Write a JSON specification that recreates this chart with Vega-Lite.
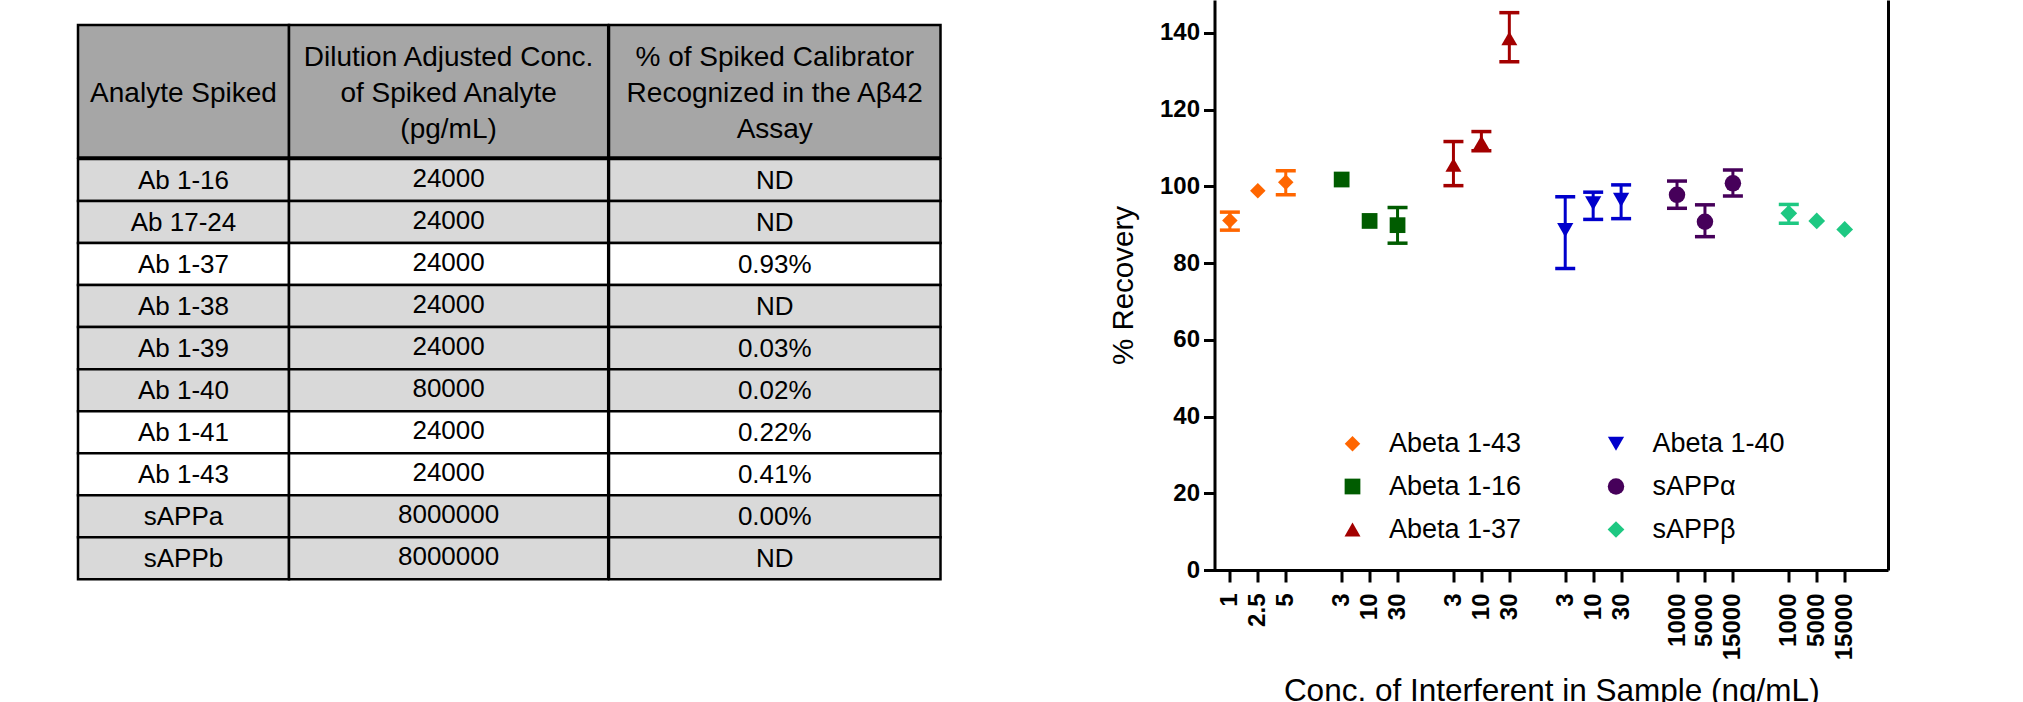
{
  "$schema": "https://vega.github.io/schema/vega-lite/v6.json",
  "background": "white",
  "padding": {"left": 76, "top": 0, "right": 5, "bottom": 0},
  "spacing": 165.5,
  "config": {
    "view": {"stroke": null},
    "font": "Liberation Sans",
    "text": {"color": "black", "font": "Liberation Sans"}
  },
  "datasets": {
    "header": [
      {"col": 1, "h": "Analyte Spiked"},
      {"col": 2, "h": "Dilution Adjusted Conc.\nof Spiked Analyte\n(pg/mL)"},
      {"col": 3, "h": "% of Spiked Calibrator\nRecognized in the Aβ42\nAssay"}
    ],
    "table": [
      {"analyte": "Ab 1-16", "conc": "24000", "pct": "ND"},
      {"analyte": "Ab 17-24", "conc": "24000", "pct": "ND"},
      {"analyte": "Ab 1-37", "conc": "24000", "pct": "0.93%"},
      {"analyte": "Ab 1-38", "conc": "24000", "pct": "ND"},
      {"analyte": "Ab 1-39", "conc": "24000", "pct": "0.03%"},
      {"analyte": "Ab 1-40", "conc": "80000", "pct": "0.02%"},
      {"analyte": "Ab 1-41", "conc": "24000", "pct": "0.22%"},
      {"analyte": "Ab 1-43", "conc": "24000", "pct": "0.41%"},
      {"analyte": "sAPPa", "conc": "8000000", "pct": "0.00%"},
      {"analyte": "sAPPb", "conc": "8000000", "pct": "ND"}
    ],
    "recovery": [
      {"series": "Abeta 1-43", "conc": "1", "rec": 91.1, "lo": 88.6, "hi": 93.3},
      {"series": "Abeta 1-43", "conc": "2.5", "rec": 98.9},
      {"series": "Abeta 1-43", "conc": "5", "rec": 101.1, "lo": 97.8, "hi": 104.1},
      {"series": "Abeta 1-16", "conc": "3", "rec": 101.8},
      {"series": "Abeta 1-16", "conc": "10", "rec": 91.0},
      {"series": "Abeta 1-16", "conc": "30", "rec": 89.9, "lo": 85.2, "hi": 94.5},
      {"series": "Abeta 1-37", "conc": "3", "rec": 105.6, "lo": 100.2, "hi": 111.7},
      {"series": "Abeta 1-37", "conc": "10", "rec": 111.5, "lo": 109.3, "hi": 114.3},
      {"series": "Abeta 1-37", "conc": "30", "rec": 138.6, "lo": 132.5, "hi": 145.3},
      {"series": "Abeta 1-40", "conc": "3", "rec": 88.6, "lo": 78.6, "hi": 97.3},
      {"series": "Abeta 1-40", "conc": "10", "rec": 95.6, "lo": 91.4, "hi": 98.5},
      {"series": "Abeta 1-40", "conc": "30", "rec": 96.5, "lo": 91.6, "hi": 100.4},
      {"series": "sAPPα", "conc": "1000", "rec": 97.8, "lo": 94.3, "hi": 101.4},
      {"series": "sAPPα", "conc": "5000", "rec": 90.8, "lo": 86.9, "hi": 95.2},
      {"series": "sAPPα", "conc": "15000", "rec": 100.8, "lo": 97.5, "hi": 104.3},
      {"series": "sAPPβ", "conc": "1000", "rec": 93.0, "lo": 90.4, "hi": 95.3},
      {"series": "sAPPβ", "conc": "5000", "rec": 91.0},
      {"series": "sAPPβ", "conc": "15000", "rec": 88.8}
    ]
  },
  "hconcat": [
    {
      "spacing": -2.5,
      "vconcat": [
        {
          "width": 861.7, "height": 24.5,
          "data": {"values": [{"blank": ""}]},
          "mark": {"type": "text", "opacity": 0},
          "encoding": {"text": {"field": "blank"}}
        },
        {
          "spacing": 0,
          "bounds": "flush",
          "hconcat": [
            {
              "width": 211, "height": 132.4,
              "view": {"fill": "#a6a6a6", "stroke": "black", "strokeWidth": 2.5},
              "data": {"name": "header"},
              "transform": [{"filter": "datum.col == 1"}],
              "mark": {"type": "text", "fontSize": 28, "lineBreak": "\n", "lineHeight": 36, "dy": 3, "fill": "black", "font": "Liberation Sans"},
              "encoding": {"text": {"field": "h"}}
            },
            {
              "width": 319.2, "height": 132.4,
              "view": {"fill": "#a6a6a6", "stroke": "black", "strokeWidth": 2.5},
              "data": {"name": "header"},
              "transform": [{"filter": "datum.col == 2"}],
              "mark": {"type": "text", "fontSize": 28, "lineBreak": "\n", "lineHeight": 36, "dy": -33, "fill": "black", "font": "Liberation Sans"},
              "encoding": {"text": {"field": "h"}}
            },
            {
              "width": 331.5, "height": 132.4,
              "view": {"fill": "#a6a6a6", "stroke": "black", "strokeWidth": 2.5},
              "data": {"name": "header"},
              "transform": [{"filter": "datum.col == 3"}],
              "mark": {"type": "text", "fontSize": 28, "lineBreak": "\n", "lineHeight": 36, "dy": -33, "fill": "black", "font": "Liberation Sans"},
              "encoding": {"text": {"field": "h"}}
            }
          ]
        },
        {
          "spacing": 0,
          "bounds": "flush",
          "hconcat": [
            {
              "width": 211, "height": 420.3,
              "data": {"name": "table"},
              "layer": [
                {
                  "mark": {"type": "rect", "stroke": "black", "strokeWidth": 2.5},
                  "encoding": {
                    "y": {"field": "analyte", "type": "nominal", "sort": null, "axis": null, "scale": {"paddingInner": 0, "paddingOuter": 0}},
                    "x": {"value": 0},
                    "x2": {"value": "width"},
                    "fill": {"condition": {"test": "indexof(['Ab 1-37','Ab 1-41','Ab 1-43'], datum.analyte) >= 0", "value": "white"}, "value": "#d9d9d9"}
                  }
                },
                {
                  "mark": {"type": "text", "fontSize": 26, "fill": "black", "font": "Liberation Sans", "dy": 1},
                  "encoding": {
                    "y": {"field": "analyte", "type": "nominal", "sort": null, "axis": null},
                    "text": {"field": "analyte"}
                  }
                }
              ]
            },
            {
              "width": 319.2, "height": 420.3,
              "data": {"name": "table"},
              "layer": [
                {
                  "mark": {"type": "rect", "stroke": "black", "strokeWidth": 2.5},
                  "encoding": {
                    "y": {"field": "analyte", "type": "nominal", "sort": null, "axis": null, "scale": {"paddingInner": 0, "paddingOuter": 0}},
                    "x": {"value": 0},
                    "x2": {"value": "width"},
                    "fill": {"condition": {"test": "indexof(['Ab 1-37','Ab 1-41','Ab 1-43'], datum.analyte) >= 0", "value": "white"}, "value": "#d9d9d9"}
                  }
                },
                {
                  "mark": {"type": "text", "fontSize": 26, "fill": "black", "font": "Liberation Sans", "dy": -1},
                  "encoding": {
                    "y": {"field": "analyte", "type": "nominal", "sort": null, "axis": null},
                    "text": {"field": "conc"}
                  }
                }
              ]
            },
            {
              "width": 331.5, "height": 420.3,
              "data": {"name": "table"},
              "layer": [
                {
                  "mark": {"type": "rect", "stroke": "black", "strokeWidth": 2.5},
                  "encoding": {
                    "y": {"field": "analyte", "type": "nominal", "sort": null, "axis": null, "scale": {"paddingInner": 0, "paddingOuter": 0}},
                    "x": {"value": 0},
                    "x2": {"value": "width"},
                    "fill": {"condition": {"test": "indexof(['Ab 1-37','Ab 1-41','Ab 1-43'], datum.analyte) >= 0", "value": "white"}, "value": "#d9d9d9"}
                  }
                },
                {
                  "mark": {"type": "text", "fontSize": 26, "fill": "black", "font": "Liberation Sans", "dy": 1},
                  "encoding": {
                    "y": {"field": "analyte", "type": "nominal", "sort": null, "axis": null},
                    "text": {"field": "pct"}
                  }
                }
              ]
            }
          ]
        }
      ]
    },
    {
      "width": 673.5, "height": 570,
      "data": {"name": "recovery"},
      "transform": [{"calculate": "datum.series + '|' + datum.conc", "as": "key"}],
      "encoding": {
        "x": {
          "field": "key", "type": "nominal",
          "scale": {"type": "point", "padding": 0.55, "domain": ["Abeta 1-43|1","Abeta 1-43|2.5","Abeta 1-43|5","gap1","Abeta 1-16|3","Abeta 1-16|10","Abeta 1-16|30","gap2","Abeta 1-37|3","Abeta 1-37|10","Abeta 1-37|30","gap3","Abeta 1-40|3","Abeta 1-40|10","Abeta 1-40|30","gap4","sAPPα|1000","sAPPα|5000","sAPPα|15000","gap5","sAPPβ|1000","sAPPβ|5000","sAPPβ|15000","gap6"]},
          "axis": {
            "values": ["Abeta 1-43|1","Abeta 1-43|2.5","Abeta 1-43|5","Abeta 1-16|3","Abeta 1-16|10","Abeta 1-16|30","Abeta 1-37|3","Abeta 1-37|10","Abeta 1-37|30","Abeta 1-40|3","Abeta 1-40|10","Abeta 1-40|30","sAPPα|1000","sAPPα|5000","sAPPα|15000","sAPPβ|1000","sAPPβ|5000","sAPPβ|15000"],
            "labelExpr": "split(datum.value, '|')[1]",
            "labelAngle": 270,
            "labelOverlap": false,
            "labelFont": "Liberation Sans", "labelFontSize": 24, "labelFontWeight": "bold", "labelColor": "black", "labelPadding": 11,
            "domainColor": "black", "domainWidth": 3,
            "tickColor": "black", "tickWidth": 3, "tickSize": 12,
            "grid": false,
            "title": "Conc. of Interferent in Sample (ng/mL)",
            "titleFont": "Liberation Sans", "titleFontSize": 31.5, "titleFontWeight": "normal", "titleColor": "black", "titlePadding": 16
          }
        },
        "color": {
          "field": "series", "type": "nominal",
          "scale": {
            "domain": ["Abeta 1-43", "Abeta 1-16", "Abeta 1-37", "Abeta 1-40", "sAPPα", "sAPPβ"],
            "range": ["#ff6600", "#005c00", "#a30000", "#0000cc", "#46005a", "#1ec882"]
          },
          "legend": {
            "orient": "none", "legendX": 1261, "legendY": 430, "columns": 2, "title": null,
            "labelFont": "Liberation Sans", "labelFontSize": 27, "labelColor": "black", "labelLimit": 400,
            "symbolSize": 225, "labelOffset": 23, "columnPadding": 80.5, "rowPadding": 15, "padding": 0,
            "symbolStrokeWidth": 0, "symbolOpacity": 1
          }
        }
      },
      "layer": [
        {
          "transform": [{"filter": "isValid(datum.lo)"}],
          "mark": {"type": "rule", "strokeWidth": 3},
          "encoding": {
            "y": {
              "field": "lo", "type": "quantitative",
              "scale": {"domain": [0, 148.6], "nice": false, "zero": true},
              "axis": {
                "orient": "left", "values": [0, 20, 40, 60, 80, 100, 120, 140], "grid": false,
                "title": "% Recovery",
                "domainColor": "black", "domainWidth": 3,
                "tickColor": "black", "tickWidth": 3, "tickSize": 11,
                "labelFont": "Liberation Sans", "labelFontSize": 24, "labelFontWeight": "bold", "labelColor": "black", "labelPadding": 4,
                "titleFont": "Liberation Sans", "titleFontSize": 29.5, "titleFontWeight": "normal", "titleColor": "black", "titlePadding": 21
              }
            },
            "y2": {"field": "hi"}
          }
        },
        {
          "transform": [{"filter": "isValid(datum.lo)"}],
          "mark": {"type": "tick", "thickness": 3.5, "size": 20, "orient": "horizontal", "opacity": 1},
          "encoding": {"y": {"field": "lo", "type": "quantitative", "axis": null}}
        },
        {
          "transform": [{"filter": "isValid(datum.hi)"}],
          "mark": {"type": "tick", "thickness": 3.5, "size": 20, "orient": "horizontal", "opacity": 1},
          "encoding": {"y": {"field": "hi", "type": "quantitative", "axis": null}}
        },
        {
          "mark": {"type": "point", "filled": true, "opacity": 1, "strokeWidth": 0},
          "encoding": {
            "y": {
              "field": "rec", "type": "quantitative",
              "axis": {"orient": "right", "labels": false, "ticks": false, "title": null, "grid": false, "domainColor": "black", "domainWidth": 3}
            },
            "size": {
              "field": "series", "type": "nominal", "legend": null,
              "scale": {
                "domain": ["Abeta 1-43", "Abeta 1-16", "Abeta 1-37", "Abeta 1-40", "sAPPα", "sAPPβ"],
                "range": [240, 280, 290, 290, 210, 240]
              }
            },
            "shape": {
              "field": "series", "type": "nominal",
              "scale": {
                "domain": ["Abeta 1-43", "Abeta 1-16", "Abeta 1-37", "Abeta 1-40", "sAPPα", "sAPPβ"],
                "range": ["diamond", "square", "triangle-up", "triangle-down", "circle", "diamond"]
              },
              "legend": {
                "orient": "none", "legendX": 1261, "legendY": 430, "columns": 2, "title": null,
                "labelFont": "Liberation Sans", "labelFontSize": 27, "labelColor": "black", "labelLimit": 400,
                "symbolSize": 225, "labelOffset": 23, "columnPadding": 80.5, "rowPadding": 15, "padding": 0,
                "symbolStrokeWidth": 0, "symbolOpacity": 1
              }
            }
          }
        }
      ],
      "resolve": {"axis": {"y": "independent"}}
    }
  ]
}
